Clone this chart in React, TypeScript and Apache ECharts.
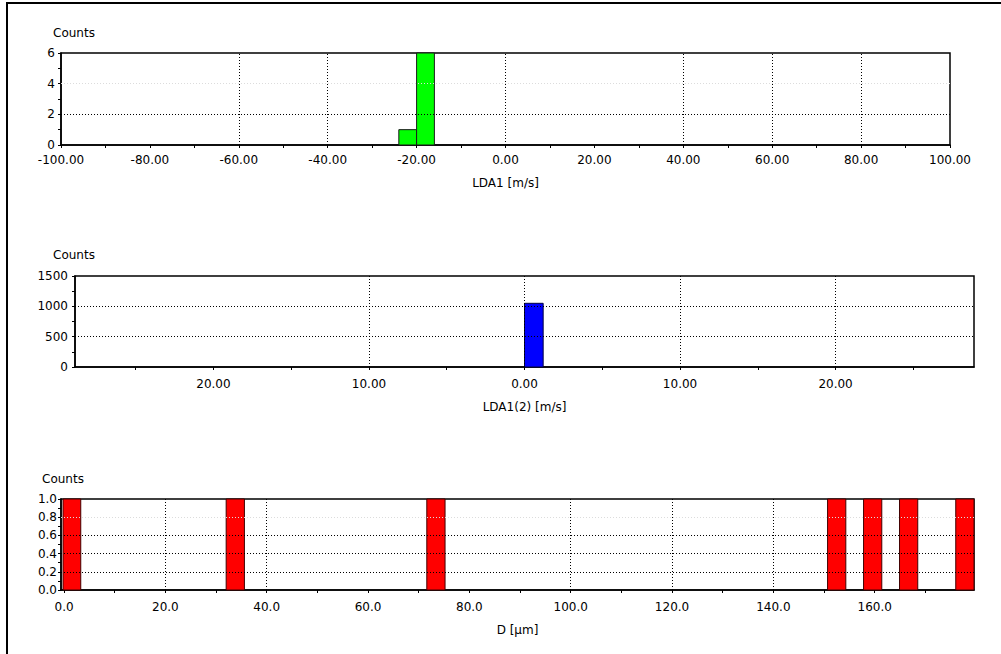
import React, { useEffect, useRef } from "react";
import * as echarts from "echarts";

// ---- data ----
// Top histogram: LDA1 velocity
const ldaBinStart = [-24, -20];
const ldaBinEnd = [-20, -16];
const ldaCounts = [1, 6];
const ldaGridX = [-60, -40, 0, 40, 60, 80];

// Middle histogram: LDA1(2) velocity
const lda2BinStart = [0];
const lda2BinEnd = [1.2];
const lda2Counts = [1050];
const lda2LabelValues = [-20, -10, 0, 10, 20];
const lda2TickValues = [-25, -20, -15, -10, -5, 0, 5, 10, 15, 20, 25];
const lda2GridX = [-10, 0, 10, 20];

// Bottom histogram: diameter
const dBinStart = [-0.2, 32, 71.6, 150.7, 157.8, 164.9, 176];
const dBinEnd = [3.3, 35.6, 75.2, 154.3, 161.4, 168.5, 179.6];
const dCounts = [1, 1, 1, 1, 1, 1, 1];
const dLabelValues = [0, 20, 40, 60, 80, 100, 120, 140, 160];
const dTickValues = [0, 10, 20, 30, 40, 50, 60, 70, 80, 90, 100, 110, 120, 130, 140, 150, 160, 170];
const dGridX = [20, 40, 100, 120, 140];

const FONT = "DejaVu Sans";
const FS = 12;

function zip3(a: number[], b: number[], c: number[]) {
  return a.map((v, i) => [v, b[i], c[i]]);
}

function histSeries(idx: number, data: number[][], fill: string, stroke: string) {
  return {
    type: "custom",
    xAxisIndex: idx,
    yAxisIndex: idx,
    z: 3,
    silent: true,
    encode: { x: [0, 1], y: 2 },
    data,
    renderItem: (_p: any, api: any) => {
      const p0 = api.coord([api.value(0), api.value(2)]);
      const p1 = api.coord([api.value(1), 0]);
      return {
        type: "rect",
        shape: { x: p0[0], y: p0[1], width: p1[0] - p0[0], height: p1[1] - p0[1] },
        style: { fill, stroke, lineWidth: 1 },
      };
    },
  };
}

function gridSeries(idx: number, xs: number[], ys: number[], faintYs: number[]) {
  return {
    type: "line",
    xAxisIndex: idx,
    yAxisIndex: idx,
    data: [],
    z: 1,
    silent: true,
    markLine: {
      silent: true,
      animation: false,
      symbol: ["none", "none"],
      label: { show: false },
      lineStyle: { type: [1, 2], color: "#000", width: 1 },
      data: [
        ...xs.map((v) => ({ xAxis: v })),
        ...ys.map((v) => ({ yAxis: v })),
        ...faintYs.map((v) => ({ yAxis: v, lineStyle: { color: "#dcdcdc", type: [1, 2], width: 1 } })),
      ],
    },
  };
}

const axisText = { color: "#000", fontSize: FS, fontFamily: FONT };
const axisLineStyle = { onZero: false, lineStyle: { color: "#000", width: 1.5 } };

export default function App() {
  const ref = useRef<HTMLDivElement>(null);
  useEffect(() => {
    document.body.style.margin = "0";
    if (!ref.current) return;
    const chart = echarts.init(ref.current, undefined, { renderer: "svg" });
    const gridBase = { show: true, borderColor: "#000", borderWidth: 1.5, backgroundColor: "#fff" };
    chart.setOption({
      animation: false,
      backgroundColor: "#fff",
      textStyle: { fontFamily: FONT },
      grid: [
        { ...gridBase, left: 61, top: 53, width: 889, height: 92 },
        { ...gridBase, left: 75, top: 276, width: 899, height: 91 },
        { ...gridBase, left: 61, top: 499, width: 913, height: 91 },
      ],
      xAxis: [
        {
          type: "value",
          gridIndex: 0,
          min: -100,
          max: 100,
          interval: 20,
          axisLine: axisLineStyle,
          axisTick: { length: 3, lineStyle: { color: "#000" } },
          minorTick: { show: true, splitNumber: 2, length: 3, lineStyle: { color: "#000" } },
          splitLine: { show: false },
          axisLabel: { ...axisText, margin: 9, formatter: (v: number) => v.toFixed(2) },
          name: "LDA1 [m/s]",
          nameLocation: "middle",
          nameGap: 32,
          nameTextStyle: axisText,
        },
        {
          type: "value",
          gridIndex: 1,
          min: -28.9,
          max: 28.9,
          axisLine: axisLineStyle,
          axisTick: { length: 3, customValues: lda2TickValues, lineStyle: { color: "#000" } },
          splitLine: { show: false },
          axisLabel: {
            ...axisText,
            margin: 11,
            customValues: lda2LabelValues,
            formatter: (v: number) => Math.abs(v).toFixed(2),
          },
          name: "LDA1(2) [m/s]",
          nameLocation: "middle",
          nameGap: 34,
          nameTextStyle: axisText,
        },
        {
          type: "value",
          gridIndex: 2,
          min: -0.6,
          max: 179.6,
          axisLine: axisLineStyle,
          axisTick: { length: 3, customValues: dTickValues, lineStyle: { color: "#000" } },
          splitLine: { show: false },
          axisLabel: {
            ...axisText,
            margin: 11,
            customValues: dLabelValues,
            formatter: (v: number) => v.toFixed(1),
          },
          name: "D [µm]",
          nameLocation: "middle",
          nameGap: 34,
          nameTextStyle: axisText,
        },
      ],
      yAxis: [
        {
          type: "value",
          gridIndex: 0,
          min: 0,
          max: 6,
          interval: 2,
          axisLine: { show: true, ...axisLineStyle },
          axisTick: { show: true, length: 3, customValues: [0, 1, 2, 3, 4, 5, 6], lineStyle: { color: "#000" } },
          splitLine: { show: false },
          axisLabel: { ...axisText, margin: 6, formatter: (v: number) => String(v) },
        },
        {
          type: "value",
          gridIndex: 1,
          min: 0,
          max: 1500,
          interval: 500,
          axisLine: { show: true, ...axisLineStyle },
          axisTick: {
            show: true,
            length: 3,
            customValues: [0, 250, 500, 750, 1000, 1250, 1500],
            lineStyle: { color: "#000" },
          },
          splitLine: { show: false },
          axisLabel: { ...axisText, margin: 7, formatter: (v: number) => String(v) },
        },
        {
          type: "value",
          gridIndex: 2,
          min: 0,
          max: 1,
          interval: 0.2,
          axisLine: { show: true, ...axisLineStyle },
          axisTick: {
            show: true,
            length: 3,
            customValues: [0, 0.1, 0.2, 0.3, 0.4, 0.5, 0.6, 0.7, 0.8, 0.9, 1],
            lineStyle: { color: "#000" },
          },
          splitLine: { show: false },
          axisLabel: { ...axisText, margin: 4, formatter: (v: number) => v.toFixed(1) },
        },
      ],
      graphic: [
        {
          type: "rect",
          shape: { x: 7, y: 3, width: 1100, height: 800 },
          style: { fill: "none", stroke: "#000", lineWidth: 2 },
          silent: true,
          z: 100,
        },
        { type: "text", x: 53, y: 27, style: { text: "Counts", fill: "#000", font: `${FS}px ${FONT}` } },
        { type: "text", x: 53, y: 249, style: { text: "Counts", fill: "#000", font: `${FS}px ${FONT}` } },
        { type: "text", x: 42, y: 473, style: { text: "Counts", fill: "#000", font: `${FS}px ${FONT}` } },
      ],
      series: [
        gridSeries(0, ldaGridX, [2], [4]),
        histSeries(0, zip3(ldaBinStart, ldaBinEnd, ldaCounts), "#00ff00", "#1a1a1a"),
        gridSeries(1, lda2GridX, [500, 1000], []),
        histSeries(1, zip3(lda2BinStart, lda2BinEnd, lda2Counts), "#0000ff", "#000040"),
        gridSeries(2, dGridX, [0.2, 0.4, 0.6], [0.8]),
        histSeries(2, zip3(dBinStart, dBinEnd, dCounts), "#ff0000", "#400000"),
      ],
    });
    return () => chart.dispose();
  }, []);
  return <div ref={ref} style={{ width: 1001, height: 654 }} />;
}
